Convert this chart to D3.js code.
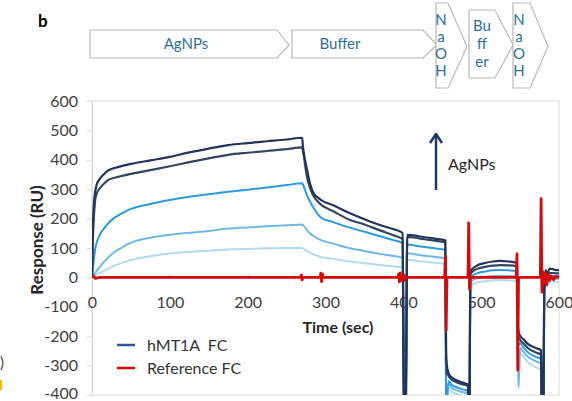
<!DOCTYPE html>
<html>
<head>
<meta charset="utf-8">
<script src="https://cdnjs.cloudflare.com/ajax/libs/d3/7.8.5/d3.min.js"></script>
<style>
  body { margin: 0; background: #fff; }
  text { font-family: Lato, "Open Sans", sans-serif; }
</style>
</head>
<body>
<script>
// ---- data ----
var timeSec = [0,1,2,4,6,10,15,20,30,40, 50,75,100,125,150,175,200,225,250,270,
  271,272,276,280,285,290,295,310,330,350, 370,390,396,399,401,403,405,420,440,454,
  455,456,458,462,467,475,483,484,485,486, 490,496,505,515,525,535,545,546,547,548,
  550,555,560,570,577,578,580,581,583,585, 588,592,596,600];

var hmt1 = [0,150,230,290,315,335,350,362,373,380, 386,398,410,425,438,450,457,463,469,475,
  445,425,370,320,285,272,262,245,220,198, 178,162,156,150,-480,-480,145,140,132,126,
  -250,-300,-325,-340,-348,-357,-364,-480,-480,20, 32,42,49,54,56,54,50,48,-150,-185,
  -198,-212,-226,-240,-248,-480,-480,-30,25,10, 30,28,25,25];

var hmt2 = [0,120,190,260,285,303,318,330,340,346, 352,365,378,392,405,417,424,430,436,442,
  430,415,345,305,275,258,246,225,197,180, 160,141,135,130,-480,-480,138,133,125,119,
  -330,-320,-335,-348,-355,-363,-370,-480,-480,10, 22,30,36,40,42,41,38,36,-160,-200,
  -212,-226,-240,-255,-263,-480,-480,-40,10,0, 15,15,14,14];

var hmt3 = [0,25,50,95,118,145,165,182,205,220, 233,250,263,274,283,291,298,306,314,320,
  316,310,280,258,235,215,202,188,170,155, 140,125,120,116,-480,-480,112,106,99,94,
  -480,-420,-352,-365,-372,-380,-386,-480,-480,-5, 8,15,20,24,25,24,22,20,-180,-230,
  -225,-240,-255,-270,-278,-480,-480,-50,0,-10, 5,5,5,5];

var hmt4 = [0,3,6,14,22,35,52,66,88,104, 118,135,145,152,158,166,170,174,177,180,
  178,175,162,150,140,132,126,115,100,90, 80,72,69,67,-480,-480,82,76,70,65,
  -480,-440,-362,-375,-382,-390,-395,-480,-480,-20, -8,-2,2,5,6,5,3,2,-200,-370,
  -240,-255,-270,-285,-294,-480,-480,-60,-10,-20, -8,-5,-5,-5];

var hmt5 = [0,1,3,6,9,15,22,29,41,51, 59,72,81,87,91,95,97,99,100,100,
  99,97,90,84,78,73,69,63,55,48, 42,37,35,34,-480,-480,60,55,50,45,
  -480,-460,-375,-388,-395,-402,-408,-480,-480,-35, -22,-17,-13,-10,-9,-10,-12,-13,-220,-380,
  -258,-272,-288,-305,-315,-480,-480,-70,-20,-30, -18,-15,-15,-15];

var refTime  = [0,2,4,10,268,269,270,271,293,294,295,296,297,393,394,395,396,397,398,
  400,401,402,403,453,454,455,456,483,484,485,486,545,546,547,548,
  576,577,578,579,580,582,584,586,588,590,593,596,600];
var refValue = [0,5,-3,0,0,8,-8,0,0,14,-14,12,0,0,12,-15,15,-10,0,
  0,8,-10,0,0,70,-180,0,0,185,-40,0,0,80,-315,0,
  0,268,-50,20,-20,15,-25,10,-10,5,-8,3,0];

var xTicks = [0,100,200,300,400,500,600];
var yTicks = [-400,-300,-200,-100,0,100,200,300,400,500,600];
var seriesNames = ["hMT1A  FC", "Reference FC"];
var stepLabels = [["AgNPs"], ["Buffer"], ["N","a","O","H"], ["Bu","ff","er"], ["N","a","O","H"]];

// ---- layout ----
var W = 572, H = 401;
var plot = {left: 92, right: 559, top: 101, bottom: 395};
var blueColors = ["#b3daf0", "#6fb8e5", "#2b9be0", "#33465f", "#22345c"];
var refColor = "#d40b0b";
var labelColor = "#2f6f9c";

// chevrons of the injection scheme: x0, body end, tip, top, bottom, text x
var stepBoxes = [
  {x0: 90,  x1: 277, tip: 289, y0: 30, y1: 58, tx: 186},
  {x0: 292, x1: 423, tip: 437, y0: 30, y1: 58, tx: 340},
  {x0: 436, x1: 448, tip: 467, y0: 3,  y1: 88, tx: 441},
  {x0: 469, x1: 495, tip: 513, y0: 10, y1: 78, tx: 482},
  {x0: 513, x1: 530, tip: 548, y0: 3,  y1: 88, tx: 519}
];

var svg = d3.select("body").append("svg").attr("width", W).attr("height", H);

var xScale = d3.scaleLinear().domain([0, 600]).range([plot.left, plot.right]);
var yScale = d3.scaleLinear().domain([-400, 600]).range([plot.bottom, plot.top]);

// panel letter
svg.append("text").attr("x", 38).attr("y", 27)
  .style("font-size", "17px").style("font-weight", "bold").text("b");

// stray bits from neighbouring panel
svg.append("text").attr("x", 0).attr("y", 368).style("font-size", "15px").attr("fill", "#444").text(")");
svg.append("rect").attr("x", 0).attr("y", 380).attr("width", 2).attr("height", 10).attr("fill", "#f5b800");

// injection scheme
var steps = svg.append("g").attr("class", "steps");
stepBoxes.forEach(function(b, i) {
  var ym = (b.y0 + b.y1) / 2 + 1;
  steps.append("polygon")
    .attr("points", [[b.x0,b.y0],[b.x1,b.y0],[b.tip,ym],[b.x1,b.y1],[b.x0,b.y1]].join(" "))
    .attr("fill", "#fff").attr("stroke", "#b9b9b9").attr("stroke-width", 1.2);
  var lines = stepLabels[i];
  var gap = lines.length == 3 ? 18 : 17;
  var start = ym - gap * (lines.length - 1) / 2 - 1;
  lines.forEach(function(s, k) {
    steps.append("text")
      .attr("x", b.tx).attr("y", start + k * gap).attr("dy", "0.35em")
      .attr("text-anchor", "middle")
      .style("font-size", "15px")
      .attr("fill", labelColor).text(s);
  });
});

// plot frame
svg.append("rect")
  .attr("x", plot.left).attr("y", plot.top)
  .attr("width", plot.right - plot.left).attr("height", plot.bottom - plot.top)
  .attr("fill", "none").attr("stroke", "#d9d9d9").attr("stroke-width", 1);

var yAxis = d3.axisLeft(yScale).tickValues(yTicks)
  .tickFormat(function(d) { return String(d); })
  .tickSize(5).tickPadding(9);
var yAxisG = svg.append("g").attr("transform", "translate(" + plot.left + ",0)").call(yAxis);
yAxisG.select(".domain").attr("stroke", "#d9d9d9");
yAxisG.selectAll(".tick line").attr("stroke", "#d9d9d9");
yAxisG.selectAll("text").style("font-size", "16px").attr("fill", "#404040")
  .style("font-family", "Lato, sans-serif");
// keep the clipped bottom label inside the window
yAxisG.selectAll(".tick text").filter(function(d) { return d == -400; }).attr("dy", "0.2em");

var xAxis = d3.axisBottom(xScale).tickValues(xTicks)
  .tickFormat(function(d) { return String(d); })
  .tickSizeInner(4).tickSizeOuter(0).tickPadding(15);
var xAxisG = svg.append("g").attr("transform", "translate(0," + yScale(0) + ")").call(xAxis);
xAxisG.select(".domain").attr("stroke", "#d9d9d9");
xAxisG.selectAll(".tick line").attr("stroke", "#d9d9d9").attr("y1", -4).attr("y2", 0);
xAxisG.selectAll("text").style("font-size", "16px").attr("fill", "#404040")
  .style("font-family", "Lato, sans-serif");

// axis titles
svg.append("text").attr("x", 338).attr("y", 327).attr("dy", "0.35em")
  .attr("text-anchor", "middle").style("font-size", "16px").style("font-weight", "bold")
  .attr("fill", "#262626").text("Time (sec)");
svg.append("text")
  .attr("transform", "translate(37," + 240 + ") rotate(-90)")
  .attr("dy", "0.35em").attr("text-anchor", "middle")
  .style("font-size", "17px").style("font-weight", "bold")
  .attr("fill", "#262626").text("Response (RU)");

// curves
svg.append("clipPath").attr("id", "clip").append("rect")
  .attr("x", plot.left).attr("y", plot.top)
  .attr("width", plot.right - plot.left + 1).attr("height", plot.bottom - plot.top);

var curves = svg.append("g").attr("clip-path", "url(#clip)");
var line = d3.line()
  .x(function(d) { return xScale(d[0]); })
  .y(function(d) { return yScale(d[1]); })
  .curve(d3.curveMonotoneX);

var allSeries = [hmt5, hmt4, hmt3, hmt2, hmt1];
allSeries.forEach(function(vals, i) {
  var pts = timeSec.map(function(t, k) { return [t, vals[k]]; });
  curves.append("path")
    .attr("d", line(pts))
    .attr("fill", "none")
    .attr("stroke", blueColors[i])
    .attr("stroke-width", i >= 3 ? 2.2 : 2)
    .attr("stroke-linejoin", "round");
});

var refLine = d3.line()
  .x(function(d) { return xScale(d[0]); })
  .y(function(d) { return yScale(d[1]); })
  .curve(d3.curveLinear);
var refPts = refTime.map(function(t, k) { return [t, refValue[k]]; });
curves.append("path")
  .attr("d", refLine(refPts))
  .attr("fill", "none").attr("stroke", refColor)
  .attr("stroke-width", 2.8).attr("stroke-linejoin", "round");

// AgNPs arrow
svg.append("line")
  .attr("x1", 436).attr("y1", 190).attr("x2", 436).attr("y2", 136)
  .attr("stroke", "#1f3864").attr("stroke-width", 2.5);
svg.append("path")
  .attr("d", "M430,143 L436,134 L442,143")
  .attr("fill", "none").attr("stroke", "#1f3864").attr("stroke-width", 2.5)
  .attr("stroke-linejoin", "round");
svg.append("text").attr("x", 448).attr("y", 164).attr("dy", "0.35em")
  .style("font-size", "16px").attr("fill", "#262626").text("AgNPs");

// legend
var legend = svg.append("g");
[["#2f5597", 345], [refColor, 368]].forEach(function(d, i) {
  legend.append("line").attr("x1", 117).attr("x2", 135).attr("y1", d[1]).attr("y2", d[1])
    .attr("stroke", d[0]).attr("stroke-width", 2.5);
  legend.append("text").attr("x", 147).attr("y", d[1]).attr("dy", "0.35em")
    .style("font-size", "16px").style("white-space", "pre")
    .attr("fill", "#333").text(seriesNames[i]);
});
</script>
</body>
</html>
